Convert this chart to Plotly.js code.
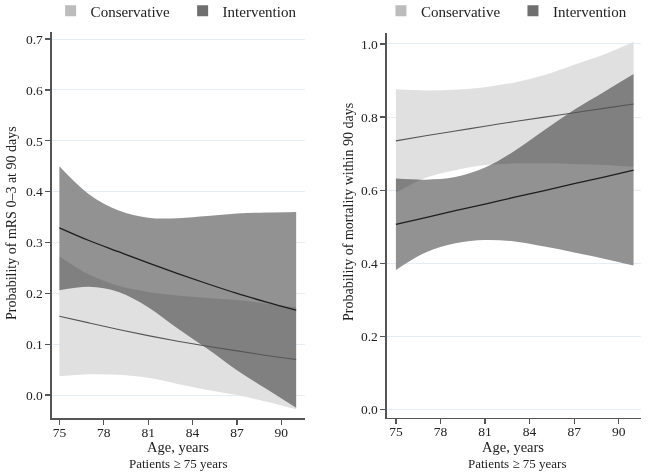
<!DOCTYPE html>
<html>
<head>
<meta charset="utf-8">
<script src="https://cdn.plot.ly/plotly-3.0.1.min.js"></script>
<style>
  body { margin: 0; background: #fff; }
  #graph { width: 649px; height: 475px; }
  /* las bandas se multiplican para que el solape salga mas oscuro */
  #graph .js-fill { mix-blend-mode: multiply; }
</style>
</head>
<body>
<div id="graph"></div>
<script>
// edades comunes a los dos paneles
const edad = [75, 77, 79, 81, 83, 85, 87, 89, 91];
const ticksEdad = [75, 78, 81, 84, 87, 90];

// panel izquierdo: probabilidad de mRS 0-3 a 90 dias
const mrsConsLinea = [0.155, 0.142, 0.129, 0.117, 0.106, 0.096, 0.087, 0.078, 0.070];
const mrsConsSup   = [0.273, 0.237, 0.215, 0.203, 0.196, 0.191, 0.187, 0.180, 0.173];
const mrsConsInf   = [0.037, 0.041, 0.040, 0.034, 0.022, 0.010, 0.000, -0.013, -0.028];
const mrsIntLinea  = [0.329, 0.304, 0.282, 0.260, 0.239, 0.219, 0.200, 0.183, 0.167];
const mrsIntSup    = [0.450, 0.395, 0.363, 0.349, 0.348, 0.352, 0.357, 0.359, 0.360];
const mrsIntInf    = [0.206, 0.213, 0.203, 0.173, 0.131, 0.091, 0.049, 0.012, -0.025];
const ticksMrs = [0, 0.1, 0.2, 0.3, 0.4, 0.5, 0.6, 0.7];

// panel derecho: probabilidad de mortalidad a 90 dias
const mortConsLinea = [0.735, 0.749, 0.762, 0.775, 0.788, 0.800, 0.812, 0.824, 0.836];
const mortConsSup   = [0.876, 0.873, 0.875, 0.882, 0.895, 0.915, 0.943, 0.971, 1.006];
const mortConsInf   = [0.593, 0.634, 0.655, 0.669, 0.673, 0.674, 0.672, 0.669, 0.664];
const mortIntLinea  = [0.507, 0.525, 0.544, 0.562, 0.581, 0.599, 0.618, 0.636, 0.655];
const mortIntSup    = [0.632, 0.629, 0.636, 0.662, 0.708, 0.765, 0.820, 0.869, 0.918];
const mortIntInf    = [0.382, 0.430, 0.455, 0.464, 0.460, 0.446, 0.430, 0.413, 0.394];
const ticksMort = [0, 0.2, 0.4, 0.6, 0.8, 1.0];

const grupos = ['Conservative', 'Intervention'];
const colorLeyenda = ['#bcbcbc', '#6f6f6f'];
const colorBanda = ['#e0e0e0', '#929292'];
const colorLinea = ['#555555', '#1e1e1e'];

const tituloX = 'Age, years';
const subtituloX = 'Patients ≥ 75 years';
const tituloMrs = 'Probability of mRS 0–3 at 90 days';
const tituloMort = 'Probability of mortality within 90 days';

const fuente = 'Liberation Serif, Times New Roman, serif';

function banda(inf, sup, color, xa, ya){
    return [
        {x: edad, y: inf, xaxis: xa, yaxis: ya, mode: 'lines', line: {width: 0, shape: 'spline'},
         showlegend: false, hoverinfo: 'skip'},
        {x: edad, y: sup, xaxis: xa, yaxis: ya, mode: 'lines', line: {width: 0, shape: 'spline'},
         fill: 'tonexty', fillcolor: color, showlegend: false, hoverinfo: 'skip'}
    ];
}

function linea(y, color, ancho, xa, ya){
    return {x: edad, y: y, xaxis: xa, yaxis: ya, mode: 'lines',
            line: {color: color, width: ancho, shape: 'spline'}, showlegend: false};
}

function leyenda(i, cual){
    return {x: [null], y: [null], mode: 'markers', name: grupos[i], legend: cual,
            marker: {symbol: 'square', size: 11, color: colorLeyenda[i]}};
}

let data = [
    ...banda(mrsConsInf, mrsConsSup, colorBanda[0], 'x', 'y'),
    ...banda(mrsIntInf, mrsIntSup, colorBanda[1], 'x', 'y'),
    linea(mrsConsLinea, colorLinea[0], 1.1, 'x', 'y'),
    linea(mrsIntLinea, colorLinea[1], 1.3, 'x', 'y'),
    ...banda(mortConsInf, mortConsSup, colorBanda[0], 'x2', 'y2'),
    ...banda(mortIntInf, mortIntSup, colorBanda[1], 'x2', 'y2'),
    linea(mortConsLinea, colorLinea[0], 1.1, 'x2', 'y2'),
    linea(mortIntLinea, colorLinea[1], 1.3, 'x2', 'y2'),
    leyenda(0, 'legend'), leyenda(1, 'legend'),
    leyenda(0, 'legend2'), leyenda(1, 'legend2')
];

const ejeX = {
    tickvals: ticksEdad, ticks: 'outside', ticklen: 5, tickcolor: '#555', tickwidth: 1.3,
    showline: true, linecolor: '#555', linewidth: 1.5, showgrid: false, zeroline: false,
    tickfont: {size: 13.5, color: '#222'}, ticklabelstandoff: -4, automargin: false
};
const ejeY = {
    ticks: 'outside', ticklen: 5, tickcolor: '#555', tickwidth: 1.3, tickformat: '.1f',
    showline: true, linecolor: '#555', linewidth: 1.5, showgrid: true, gridcolor: '#e3edf3',
    gridwidth: 1, zeroline: false, tickfont: {size: 13.5, color: '#222'}, automargin: false
};
const leyendaBase = {orientation: 'h', yanchor: 'middle', y: 0.977, xanchor: 'left',
    traceorder: 'normal', font: {family: fuente, size: 15, color: '#222'},
    entrywidth: 87, itemwidth: 30, bgcolor: 'rgba(0,0,0,0)'};

function texto(t, x, y, tam, angulo){
    return {text: t, xref: 'paper', yref: 'paper', x: x / 649, y: 1 - y / 475,
            xanchor: 'center', yanchor: 'middle', showarrow: false, textangle: angulo || 0,
            font: {family: fuente, size: tam, color: '#222'}};
}

let layout = {
    width: 649,
    height: 475,
    margin: {l: 0, r: 0, t: 0, b: 0, autoexpand: false},
    paper_bgcolor: '#fff',
    plot_bgcolor: '#fff',
    font: {family: fuente, color: '#222'},
    xaxis: {...ejeX, domain: [0.0801, 0.470], range: [74.5, 91.6], anchor: 'y'},
    yaxis: {...ejeY, domain: [0.12, 0.9326], range: [-0.045, 0.714], tickvals: ticksMrs, anchor: 'x'},
    xaxis2: {...ejeX, domain: [0.5963, 0.9877], range: [74.4, 91.5], anchor: 'y2'},
    yaxis2: {...ejeY, domain: [0.1206, 0.9305], range: [-0.022, 1.03], tickvals: ticksMort, anchor: 'x2'},
    legend: {...leyendaBase, x: 0.078},
    legend2: {...leyendaBase, x: 0.587},
    showlegend: true,
    annotations: [
        texto(tituloX, 178, 447, 14.5),
        texto(subtituloX, 178, 463, 13),
        texto(tituloX, 513, 447, 14.5),
        texto(subtituloX, 517, 463, 13),
        texto(tituloMrs, 12, 223, 14, -90),
        texto(tituloMort, 348, 212, 14, -90)
    ]
};

Plotly.newPlot('graph', data, layout, {displayModeBar: false, staticPlot: true});
</script>
</body>
</html>
